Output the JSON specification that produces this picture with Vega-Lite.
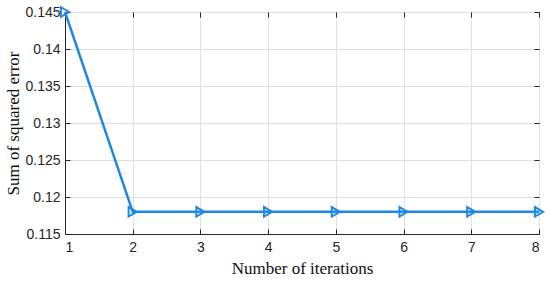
{
  "$schema": "https://vega.github.io/schema/vega-lite/v6.json",
  "width": 474,
  "height": 222,
  "autosize": {"type": "none"},
  "padding": {"left": 65, "top": 12, "right": 11, "bottom": 48},
  "background": "white",
  "config": {
    "view": {"stroke": "#262626", "strokeWidth": 1},
    "axis": {
      "labelFont": "Liberation Sans",
      "labelFontSize": 14,
      "labelColor": "#262626",
      "titleFont": "Liberation Serif",
      "titleFontSize": 17,
      "titleFontWeight": "normal",
      "titleColor": "#111",
      "domainColor": "#262626",
      "tickColor": "#262626",
      "tickSize": -5,
      "gridColor": "#e0e0e0",
      "gridOpacity": 1
    }
  },
  "data": {"values": [
    {"iter": 1, "sse": 0.145},
    {"iter": 2, "sse": 0.118},
    {"iter": 3, "sse": 0.118},
    {"iter": 4, "sse": 0.118},
    {"iter": 5, "sse": 0.118},
    {"iter": 6, "sse": 0.118},
    {"iter": 7, "sse": 0.118},
    {"iter": 8, "sse": 0.118}
  ]},
  "resolve": {"axis": {"x": "independent", "y": "independent"}},
  "layer": [
    {
      "mark": {"type": "line", "color": "#1f88e5", "strokeWidth": 2.5, "clip": false},
      "encoding": {
        "x": {"field": "iter", "type": "quantitative", "title": "Number of iterations",
          "scale": {"domain": [1, 8], "nice": false},
          "axis": {"values": [1,2,3,4,5,6,7,8], "labelPadding": 11, "titlePadding": 6}},
        "y": {"field": "sse", "type": "quantitative", "title": "Sum of squared error",
          "scale": {"domain": [0.115, 0.145], "nice": false, "zero": false},
          "axis": {"values": [0.115,0.12,0.125,0.13,0.135,0.14,0.145], "format": ".3~f", "labelPadding": 10, "titlePadding": 2}}
      }
    },
    {
      "mark": {"type": "point", "shape": "triangle-right", "filled": false, "color": "#1f88e5", "strokeWidth": 2, "size": 90, "opacity": 1, "clip": false},
      "encoding": {
        "x": {"field": "iter", "type": "quantitative",
          "axis": {"orient": "top", "values": [1,2,3,4,5,6,7,8], "labels": false, "grid": false, "domain": false, "title": null}},
        "y": {"field": "sse", "type": "quantitative",
          "axis": {"orient": "right", "values": [0.115,0.12,0.125,0.13,0.135,0.14,0.145], "labels": false, "grid": false, "domain": false, "title": null}}
      }
    }
  ]
}
